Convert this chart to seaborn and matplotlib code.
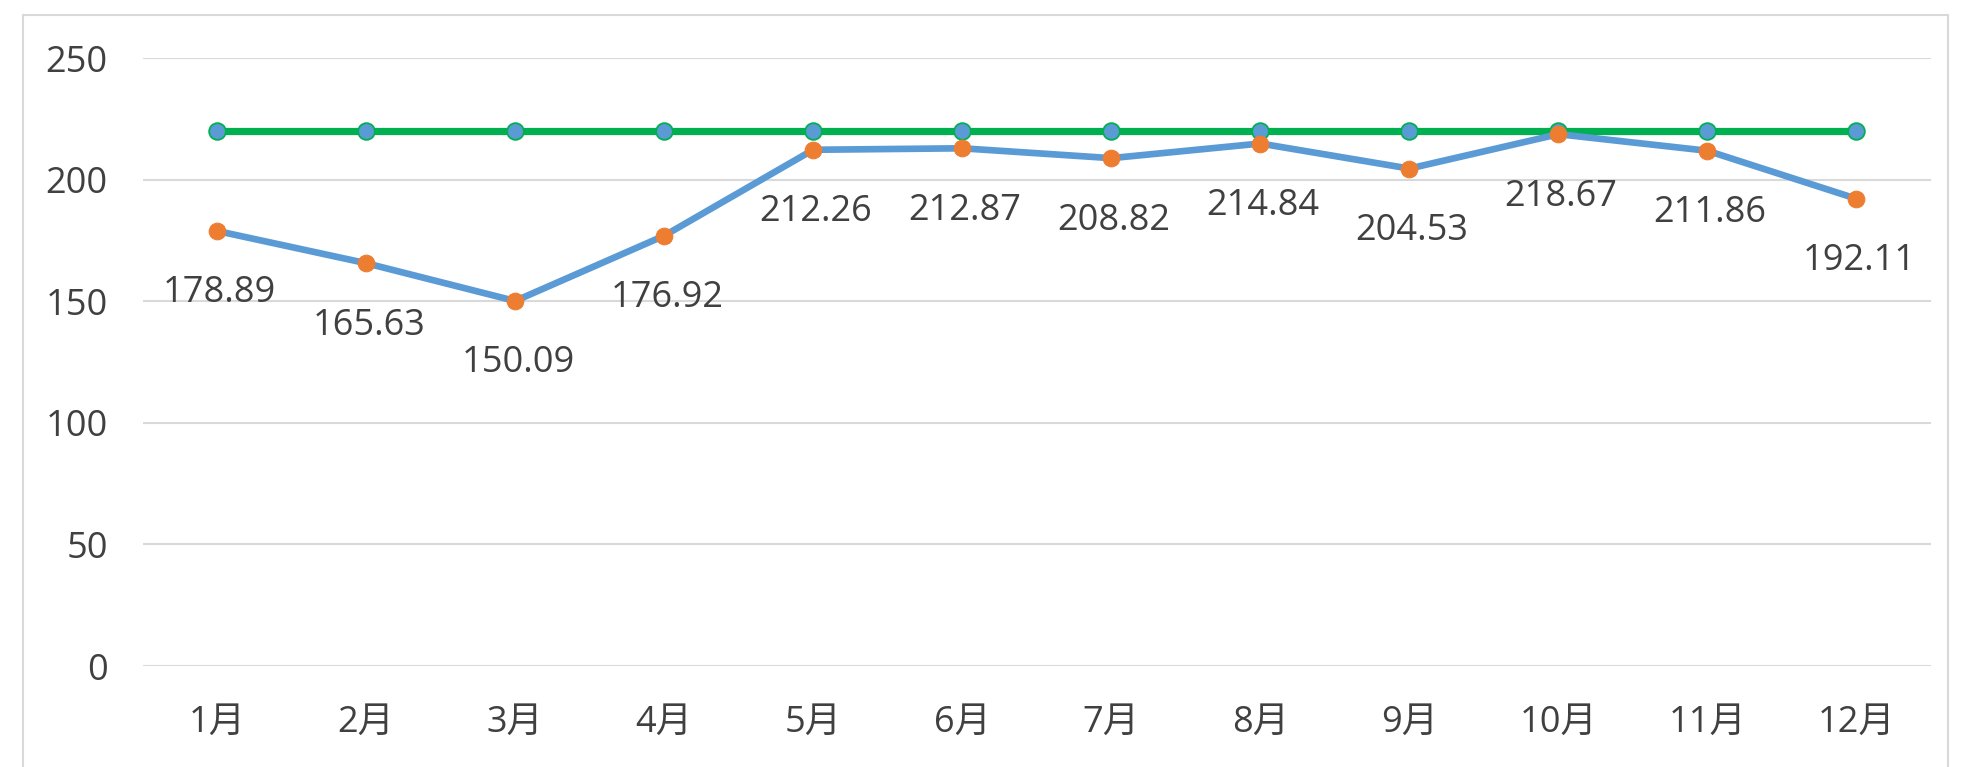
import matplotlib
matplotlib.use("Agg")
import matplotlib.pyplot as plt
import seaborn as sns
import pandas as pd

# ── data ────────────────────────────────────────────────────────────────────
months = ["1月", "2月", "3月", "4月", "5月", "6月",
          "7月", "8月", "9月", "10月", "11月", "12月"]
actual = [178.89, 165.63, 150.09, 176.92, 212.26, 212.87,
          208.82, 214.84, 204.53, 218.67, 211.86, 192.11]
target = [220] * 12
y_ticks = [0, 50, 100, 150, 200, 250]

sns.set_theme(style="white")
plt.rcParams["font.family"] = ["Open Sans", "Noto Sans CJK SC", "DejaVu Sans"]

TEXT = "#404040"
GRID = "#D9D9D9"

df = pd.DataFrame({"month": months, "actual": actual, "target": target})
df["pos"] = range(len(df))

fig = plt.figure(figsize=(19.63, 7.67), dpi=100)
ax = fig.add_axes([142.5 / 1963, 101 / 767, (1931 - 142.5) / 1963, 608 / 767])

sns.lineplot(data=df, x="pos", y="target", ax=ax, color="#00B050", lw=5.2,
             marker="o", markersize=12, markerfacecolor="#5B9BD5",
             markeredgecolor="#00B050", markeredgewidth=1.3, sort=False)
sns.lineplot(data=df, x="pos", y="actual", ax=ax, color="#5B9BD5", lw=4.8,
             marker="o", markersize=12, markerfacecolor="#ED7D31",
             markeredgecolor="#ED7D31", sort=False)

for i, v in enumerate(actual):
    ax.annotate(f"{v:.2f}", (i, v), xytext=(2, -45), textcoords="offset points",
                ha="center", va="center", fontsize=26, color=TEXT)

ax.set_xlim(-0.5, len(months) - 0.5)
ax.set_ylim(0, 250)
ax.set_xticks(range(len(months)))
ax.set_xticklabels(months)
ax.set_yticks(y_ticks)
ax.set_xlabel("")
ax.set_ylabel("")
ax.tick_params(axis="both", length=0, labelsize=26, labelcolor=TEXT)
ax.tick_params(axis="x", pad=28)
ax.tick_params(axis="y", pad=25)
ax.yaxis.grid(True, color=GRID, lw=1.5)
ax.set_axisbelow(True)
for s in ax.spines.values():
    s.set_visible(False)

# outer chart frame
fig.add_artist(plt.Line2D([23 / 1963, 23 / 1963], [0, 752 / 767], color=GRID, lw=1.5))
fig.add_artist(plt.Line2D([23 / 1963, 1948 / 1963], [752 / 767, 752 / 767], color=GRID, lw=1.5))
fig.add_artist(plt.Line2D([1948 / 1963, 1948 / 1963], [0, 752 / 767], color=GRID, lw=1.5))

fig.savefig("out.png", dpi=100, facecolor="white")
